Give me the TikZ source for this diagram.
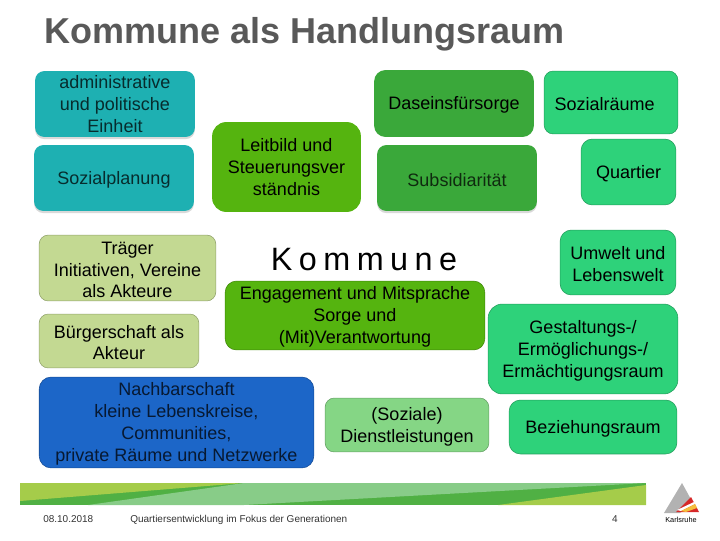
\documentclass[tikz,border=0pt]{standalone}
\usepackage{fontspec}
\setmainfont{Liberation Sans}
\newfontfamily\spreadfont[LetterSpace=20]{Liberation Sans}
\definecolor{kmteal}{RGB}{30,176,178}
\definecolor{kmlime}{RGB}{85,180,15}
\definecolor{kmgreen}{RGB}{58,168,58}
\definecolor{kmmint}{RGB}{46,210,122}
\definecolor{kmolive}{RGB}{195,217,146}
\definecolor{kmblue}{RGB}{28,102,200}
\definecolor{kmpale}{RGB}{133,214,133}
\definecolor{kmtitle}{RGB}{89,89,89}
\definecolor{bandyellow}{RGB}{165,204,74}
\definecolor{bandgreen}{RGB}{80,176,68}
\definecolor{bandpale}{RGB}{136,204,136}
\definecolor{logored}{RGB}{214,40,40}
\definecolor{logoyellow}{RGB}{245,190,60}
\usetikzlibrary{shadows}
\newcommand{\lowline}{\rule{0pt}{11.5pt}}
\tikzset{
  kmbox/.style={rounded corners=6.5pt, inner sep=0pt, align=center, font=\fontsize{12.8}{15.6}\selectfont},
  edged/.style={kmbox, draw=#1!75!black, thin, fill=#1},
  lifted/.style={kmbox, fill=#1, drop shadow={shadow xshift=0pt, shadow yshift=-1.5pt, opacity=0.3}},
  foot/.style={font=\fontsize{7.1}{9}\selectfont, text=black!80, inner sep=0pt}
}
\begin{document}
\begin{tikzpicture}[x=0.025cm, y=-0.025cm]
  \useasboundingbox (0,0) rectangle (720,540);

  % Title
  \node[font=\fontsize{25.6}{30}\bfseries\selectfont, kmtitle, anchor=base west, inner sep=0pt] (title) at (44,43) {Kommune als Handlungsraum};

  % Left column
  \node[lifted=kmteal, text=black!75!kmteal, minimum width=160*0.71pt, minimum height=66*0.71pt] (einheit) at (115,104) {administrative\\und politische\\Einheit};
  \node[lifted=kmteal, text=black!75!kmteal, minimum width=160*0.71pt, minimum height=66*0.71pt] (planung) at (114,178) {\lowline Sozialplanung};
  \node[edged=kmolive, minimum width=177*0.71pt, minimum height=66*0.71pt] (traeger) at (127.5,268) {\lowline Träger\\Initiativen, Vereine\\als Akteure};
  \node[edged=kmolive, minimum width=160*0.71pt, minimum height=54*0.71pt] (buerger) at (119,341) {\lowline Bürgerschaft als\\Akteur};
  \node[edged=kmblue, rounded corners=8.5pt, text=black!75!kmblue, minimum width=275*0.71pt, minimum height=91*0.71pt] (nachbar) at (176.5,422.5) {\lowline Nachbarschaft\\kleine Lebenskreise,\\Communities,\\private Räume und Netzwerke};

  % Middle column
  \node[kmbox, rounded corners=10pt, fill=kmlime, minimum width=149*0.71pt, minimum height=90*0.71pt] (leitbild) at (286.5,167) {Leitbild und\\Steuerungsver\\ständnis};
  \node[font=\fontsize{23}{27}\spreadfont, inner sep=0pt] (kommune) at (364,260) {Kommune};
  \node[edged=kmlime, rounded corners=8pt, minimum width=260*0.71pt, minimum height=69*0.71pt] (engagement) at (355,315.5) {\lowline Engagement und Mitsprache\\Sorge und\\(Mit)Verantwortung};
  \node[edged=kmpale, minimum width=164*0.71pt, minimum height=54*0.71pt] (dienst) at (407,425) {\lowline (Soziale)\\Dienstleistungen};
  \node[kmbox, rounded corners=8pt, fill=kmgreen, minimum width=160*0.71pt, minimum height=67*0.71pt] (daseins) at (454,103.5) {\lowline Daseinsfürsorge};
  \node[lifted=kmgreen, text=black!75!kmgreen, minimum width=160*0.71pt, minimum height=66*0.71pt] (subsid) at (457,178) {\lowline Subsidiarität};

  % Right column
  \node[edged=kmmint, minimum width=134*0.71pt, minimum height=63*0.71pt] (sozial) at (611,102.5) {\lowline Sozialräume\hspace*{9pt}};
  \node[edged=kmmint, rounded corners=8pt, minimum width=95*0.71pt, minimum height=66*0.71pt] (quartier) at (628.5,172) {\lowline Quartier};
  \node[edged=kmmint, rounded corners=8pt, minimum width=116*0.71pt, minimum height=65*0.71pt] (umwelt) at (618,262.5) {\lowline Umwelt und\\Lebenswelt};
  \node[edged=kmmint, rounded corners=10pt, minimum width=190*0.71pt, minimum height=90*0.71pt] (gestalt) at (583,349) {\lowline Gestaltungs-/\\Ermöglichungs-/\\Ermächtigungsraum};
  \node[edged=kmmint, rounded corners=8pt, minimum width=168*0.71pt, minimum height=54*0.71pt] (beziehung) at (593,427) {\lowline Beziehungsraum};

  % Footer band
  \fill[bandgreen] (20,483) rectangle (646,505);
  \fill[bandyellow] (20,483) -- (244,483) -- (20,501) -- cycle;
  \fill[bandpale] (244,483) -- (646,483) -- (244,505) -- (88,505) -- cycle;
  \fill[bandyellow] (498,505) -- (646,485) -- (646,505) -- cycle;

  % Footer text
  \node[foot, anchor=base west] (datum) at (43,522) {08.10.2018};
  \node[foot, anchor=base west] (anlass) at (130,522) {Quartiersentwicklung im Fokus der Generationen};
  \node[foot, anchor=base] (seite) at (615,522) {4};

  % Logo
  \fill[black!30] (682,483) -- (693,503) -- (680,513) -- (664,513) -- cycle;
  \fill[logored] (691,497) -- (699,512) -- (676,512) -- cycle;
  \fill[white] (677,510) -- (694,502) -- (695,504) -- (681,511) -- cycle;
  \fill[logoyellow] (681,511) -- (695,504) -- (697,508) -- (686,512) -- cycle;
  \node[font=\fontsize{5.2}{6}\selectfont, inner sep=0pt] (stadt) at (681,520) {Karlsruhe};
\end{tikzpicture}
\end{document}
